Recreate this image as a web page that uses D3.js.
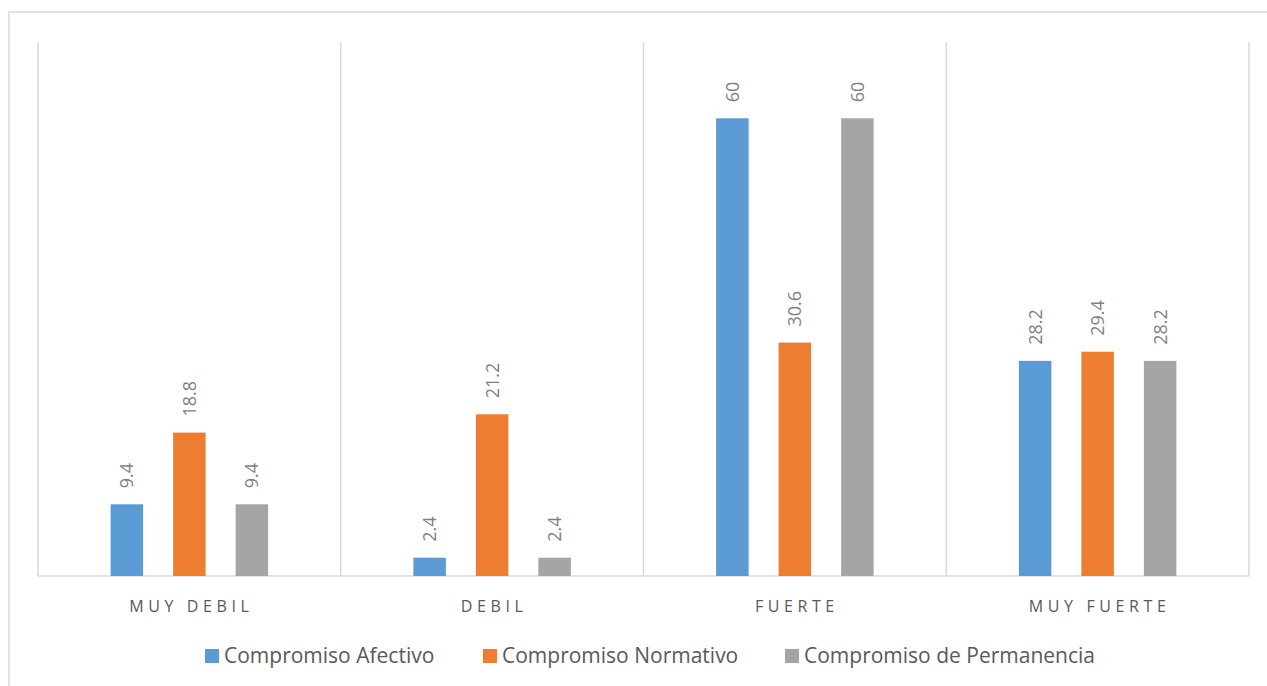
<!DOCTYPE html>
<meta charset="utf-8">
<script src="https://d3js.org/d3.v7.min.js"></script>
<style>
body { margin: 0; background: #fff; }
text { font-family: "Open Sans", "Noto Sans", sans-serif; }
.cat { fill: #595959; font-size: 16px; letter-spacing: 4.6px; }
.lbl { fill: #7f7f7f; font-size: 18px; }
.leg { fill: #595959; font-size: 21px; }
</style>
<body>
<script>

let width = 1267,
    height = 686;

let categories = ['MUY DEBIL', 'DEBIL', 'FUERTE', 'MUY FUERTE'];
let series = ['Compromiso Afectivo', 'Compromiso Normativo', 'Compromiso de Permanencia'];
let afectivo = [9.4, 2.4, 60, 28.2];
let normativo = [18.8, 21.2, 30.6, 29.4];
let permanencia = [9.4, 2.4, 60, 28.2];
let color = ['#5b9bd5', '#ed7d31', '#a5a5a5'];

let values = [afectivo, normativo, permanencia];

let svg = d3.select("body").append("svg")
    .attr("width", width)
    .attr("height", height);

// outer chart border
svg.append("rect")
    .attr("x", 9).attr("y", 12)
    .attr("width", 1300).attr("height", 700)
    .attr("fill", "none")
    .attr("stroke", "#d9d9d9")
    .attr("stroke-width", 1.5);

let pLeft = 38, pRight = 1249, pTop = 42, pBottom = 576;

let x0 = d3.scaleBand().domain(categories).range([pLeft, pRight]).padding(0);
let y = d3.scaleLinear().domain([0, 70]).range([pBottom, pTop]);

// bars: width ~32.5, step ~62.5 between series
let x1 = d3.scaleBand().domain(series).range([-78.75, 78.75]).paddingInner(0.48);

// vertical category separators
let seps = categories.map(c => x0(c)).concat([pRight]);
svg.selectAll(".sep")
    .data(seps)
    .enter().append("line")
    .attr("x1", d => d).attr("x2", d => d)
    .attr("y1", pTop).attr("y2", pBottom)
    .attr("stroke", "#d9d9d9")
    .attr("stroke-width", 1.5);

svg.append("line")
    .attr("x1", pLeft).attr("x2", pRight)
    .attr("y1", pBottom).attr("y2", pBottom)
    .attr("stroke", "#d9d9d9")
    .attr("stroke-width", 1.5);

let rows = [];
categories.forEach((c, i) => {
  series.forEach((s, j) => {
    rows.push({cat: c, ser: s, v: values[j][i], col: color[j]});
  });
});

let g = svg.append("g");
g.selectAll(".bar")
    .data(rows)
    .enter().append("rect")
    .attr("class", "bar")
    .attr("x", d => x0(d.cat) + x0.bandwidth() / 2 + x1(d.ser))
    .attr("y", d => y(d.v))
    .attr("width", x1.bandwidth())
    .attr("height", d => pBottom - y(d.v))
    .attr("fill", d => d.col);

g.selectAll(".lbl")
    .data(rows)
    .enter().append("text")
    .attr("class", "lbl")
    .attr("transform", d => {
      let cx = x0(d.cat) + x0.bandwidth() / 2 + x1(d.ser) + x1.bandwidth() / 2;
      return `translate(${cx + 6.5},${y(d.v) - 16}) rotate(-90)`;
    })
    .text(d => d.v);

svg.selectAll(".cat")
    .data(categories)
    .enter().append("text")
    .attr("class", "cat")
    .attr("x", d => x0(d) + x0.bandwidth() / 2 + 2)
    .attr("y", 612)
    .attr("text-anchor", "middle")
    .text(d => d);

// legend
let legX = [205, 483, 785];
let leg = svg.selectAll(".legi")
    .data(series)
    .enter().append("g")
    .attr("transform", (d, i) => `translate(${legX[i]},649)`);

leg.append("rect")
    .attr("width", 14).attr("height", 14)
    .attr("fill", (d, i) => color[i]);

leg.append("text")
    .attr("class", "leg")
    .attr("x", 19)
    .attr("y", 14)
    .text(d => d);

</script>
